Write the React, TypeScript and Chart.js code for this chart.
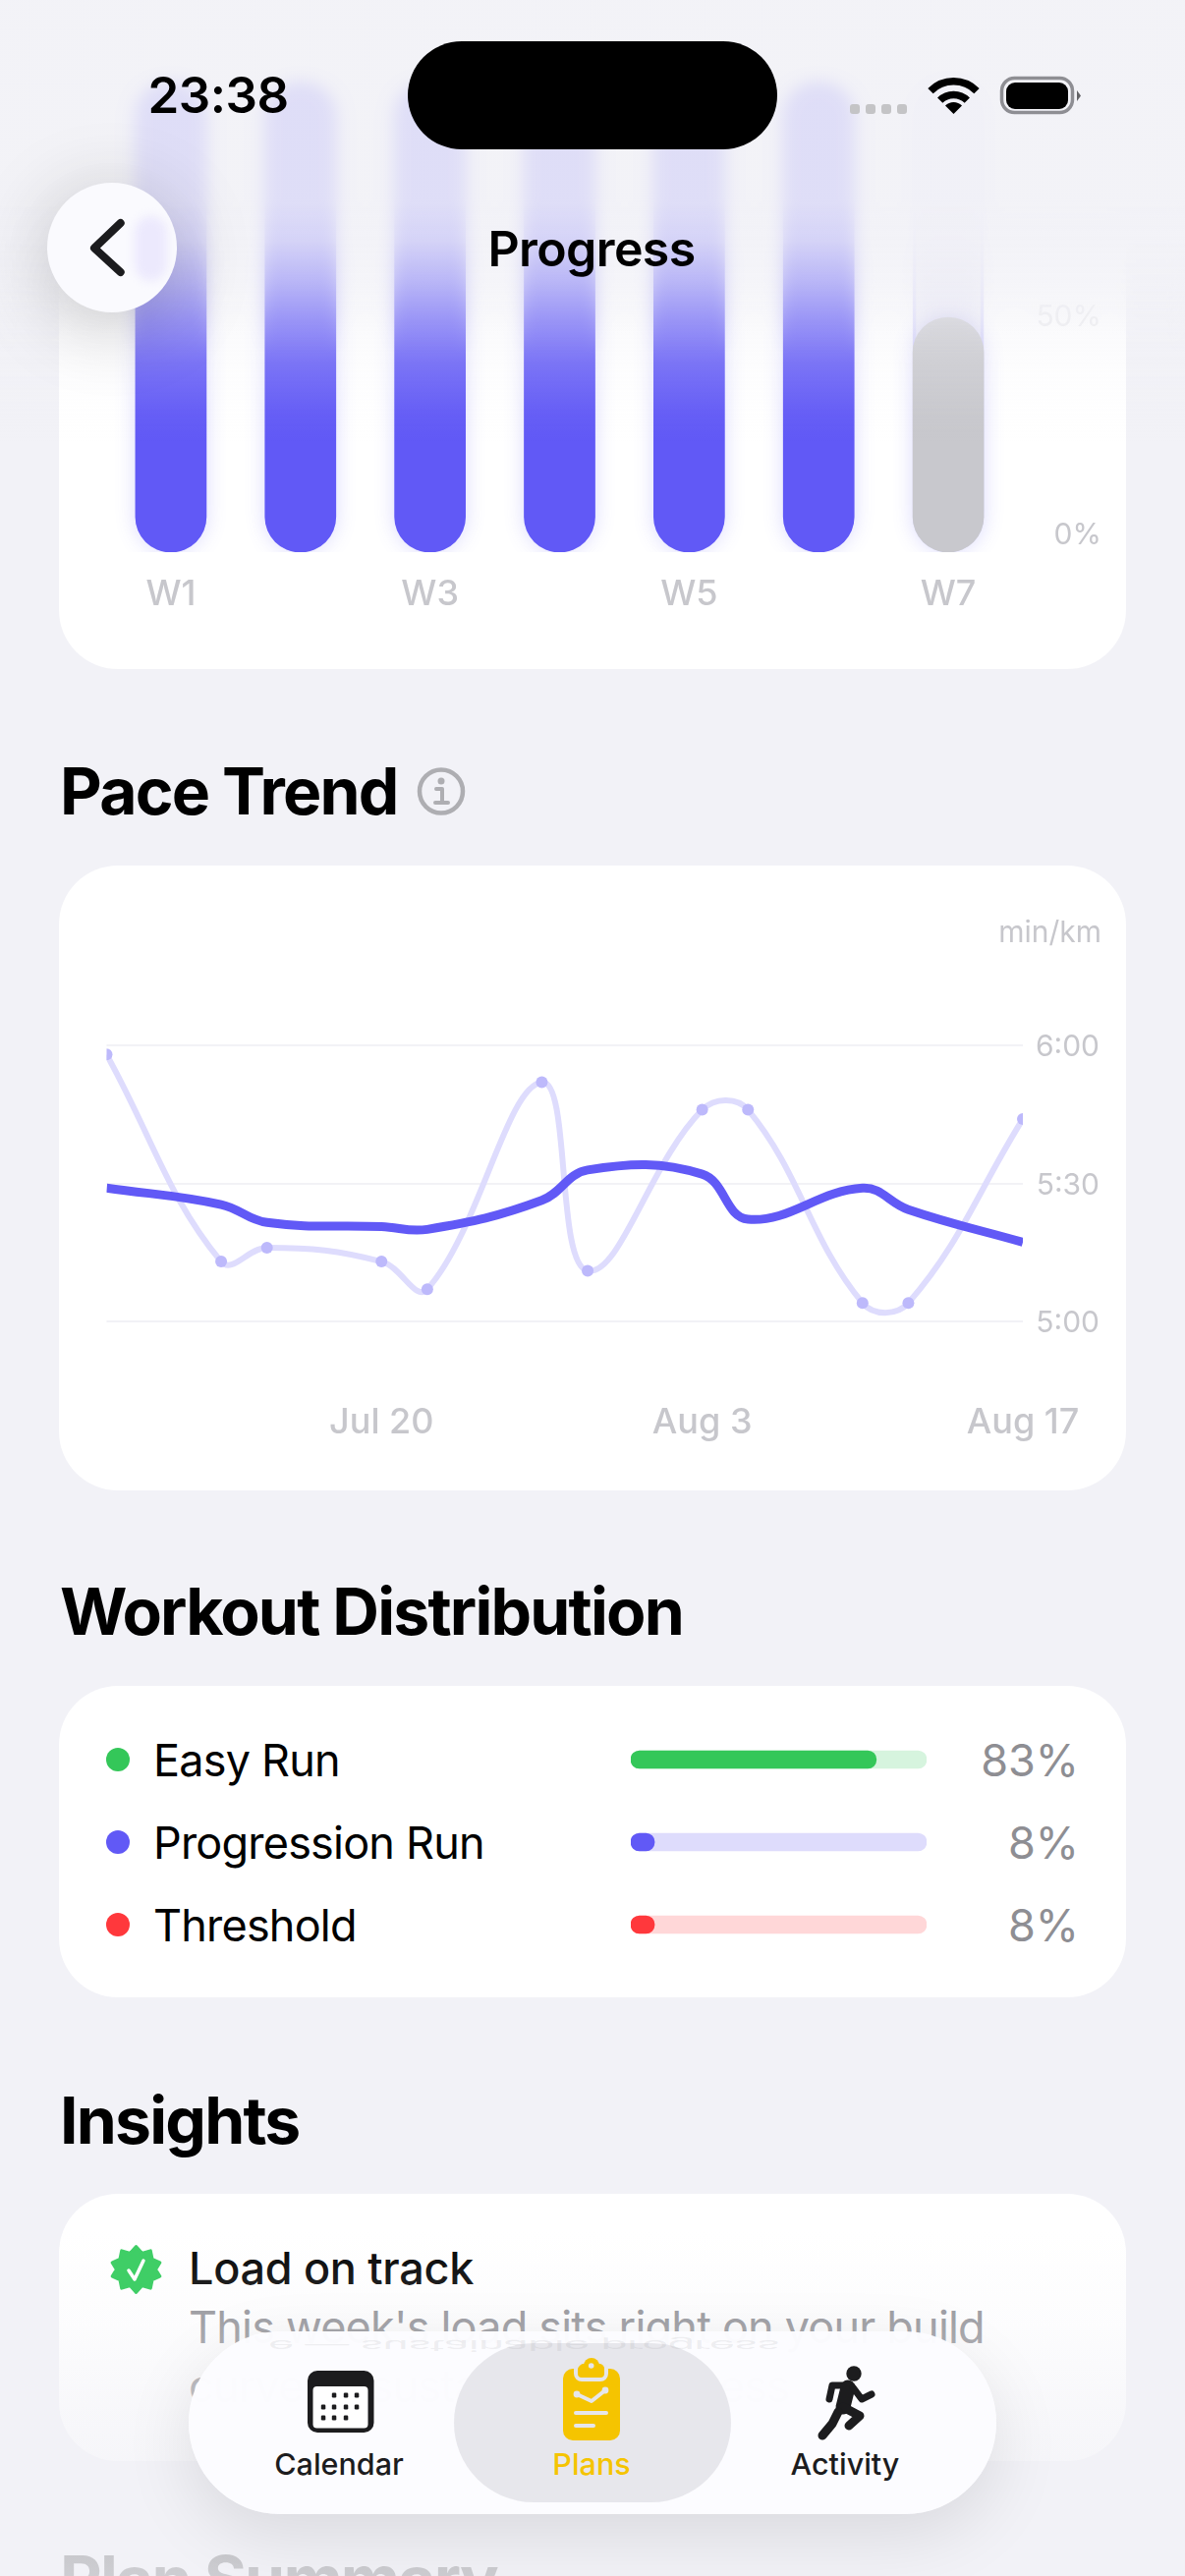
import React, { useEffect, useRef } from 'react';
import { Chart, registerables } from 'chart.js';

Chart.register(...registerables);
Chart.defaults.font.family = 'Inter';

const weeks = ['W1', 'W2', 'W3', 'W4', 'W5', 'W6', 'W7'];
const completedPct = [104, 104, 104, 104, 104, 104, 50];
const plannedPct = [104, 104, 104, 104, 104, 104, 104];
const progressTicks = [0, 50];

// days since Jul 8
const runDays = [0, 5, 7, 12, 14, 19, 21, 26, 28, 33, 35, 40];
const runPace = [358, 313, 316, 313, 307, 352, 311, 346, 346, 304, 304, 344];
const avgPace = [329, 325.4, 321.5, 320.6, 320, 326.3, 332.9, 332, 322.2, 329, 324.3, 317.2];
const paceTicks = [300, 330, 360];
const dateTickDays = [12, 26, 40];
const dateTickLabels = ['Jul 20', 'Aug 3', 'Aug 17'];

const workouts = ['Easy Run', 'Progression Run', 'Threshold'];
const workoutPct = [83, 8, 8];
const workoutTrack = [100, 100, 100];

const PURPLE = '#6159F6';
const GRAY_TEXT = '#C7C7CC';
const BG = '#F2F2F7';
const workoutColors = ['#34C759', PURPLE, '#FF383C'];
const workoutTints = ['#D6F4DE', '#DEDCFC', '#FFD7D8'];

const barGlow = {
  id: 'barGlow',
  beforeDatasetDraw(chart: Chart) {
    chart.ctx.save();
    chart.ctx.shadowColor = 'rgba(97, 89, 246, 0.22)';
    chart.ctx.shadowBlur = 20;
  },
  afterDatasetDraw(chart: Chart) {
    chart.ctx.restore();
  },
};

const ProgressChart: React.FC = () => {
  const canvasRef = useRef<HTMLCanvasElement | null>(null);

  useEffect(() => {
    if (!canvasRef.current) return;
    const chart = new Chart(canvasRef.current, {
      type: 'bar',
      data: {
        labels: weeks,
        datasets: [
          {
            label: 'Completed',
            data: completedPct,
            base: -3.83,
            backgroundColor: completedPct.map((_, i) => (i === 6 ? '#C8C8CD' : PURPLE)),
            borderWidth: 0,
            borderRadius: 36,
            borderSkipped: false,
            barThickness: 72,
            grouped: false,
          },
          {
            label: 'Planned',
            data: plannedPct,
            base: -3.83,
            backgroundColor: 'rgba(226, 226, 236, 0.35)',
            borderColor: 'rgba(97, 89, 246, 0.18)',
            borderWidth: 3,
            borderRadius: 36,
            borderSkipped: false,
            barThickness: 72,
            grouped: false,
          },
        ],
      },
      options: {
        animation: false,
        responsive: false,
        layout: { padding: { top: 82, left: 48, right: 25 } },
        plugins: { legend: { display: false }, tooltip: { enabled: false } },
        scales: {
          x: {
            grid: { display: false, drawTicks: false },
            border: { display: false },
            ticks: {
              autoSkip: false,
              maxRotation: 0,
              padding: 22,
              color: GRAY_TEXT,
              font: { size: 36, weight: 500 },
              callback: (_, i) => (i % 2 === 0 ? weeks[i] : ''),
            },
            afterFit: (s) => {
              s.height = 118;
            },
          },
          y: {
            position: 'right',
            min: -3.83,
            max: 104.27,
            grid: { display: false, drawTicks: false },
            border: { display: false },
            afterBuildTicks: (s) => {
              s.ticks = progressTicks.map((value) => ({ value }));
            },
            afterFit: (s) => {
              s.width = 90;
            },
            ticks: {
              crossAlign: 'far',
              color: (c) => (c.tick.value === 50 ? '#E9E9EC' : GRAY_TEXT),
              font: { size: 30 },
              callback: (v) => `${v}%`,
            },
          },
        },
      },
      plugins: [barGlow],
    });
    return () => chart.destroy();
  }, []);

  return <canvas ref={canvasRef} width={1086} height={680} style={{ position: 'absolute', left: 60, top: 0 }} />;
};

const PaceChart: React.FC = () => {
  const canvasRef = useRef<HTMLCanvasElement | null>(null);

  useEffect(() => {
    if (!canvasRef.current) return;
    const chart = new Chart(canvasRef.current, {
      type: 'line',
      data: {
        datasets: [
          {
            label: 'Average',
            data: runDays.map((x, i) => ({ x, y: avgPace[i] })),
            borderColor: PURPLE,
            borderWidth: 9,
            pointRadius: 0,
            tension: 0.4,
            clip: 0,
          },
          {
            label: 'Runs',
            data: runDays.map((x, i) => ({ x, y: runPace[i] })),
            borderColor: '#DEDCFD',
            borderWidth: 6,
            pointRadius: 6,
            pointBackgroundColor: '#BDB9FB',
            pointBorderWidth: 0,
            tension: 0.4,
            clip: 0,
          },
        ],
      },
      options: {
        animation: false,
        responsive: false,
        layout: { padding: { top: 183, left: 48.5, right: 27 } },
        plugins: { legend: { display: false }, tooltip: { enabled: false } },
        scales: {
          x: {
            type: 'linear',
            min: 0,
            max: 40,
            grid: { display: false, drawTicks: false },
            border: { display: false },
            afterBuildTicks: (s) => {
              s.ticks = dateTickDays.map((value) => ({ value }));
            },
            afterFit: (s) => {
              s.height = 172;
              // the label padding would otherwise shrink the plot
              s.paddingLeft = 0;
              s.paddingRight = 0;
            },
            ticks: {
              autoSkip: false,
              maxRotation: 0,
              padding: 82,
              color: GRAY_TEXT,
              font: { size: 36, weight: 500 },
              callback: (v) => dateTickLabels[dateTickDays.indexOf(v as number)],
            },
          },
          y: {
            position: 'right',
            min: 300,
            max: 360,
            grid: { color: '#F2F2F6', lineWidth: 2, drawTicks: false },
            border: { display: false },
            afterBuildTicks: (s) => {
              s.ticks = paceTicks.map((value) => ({ value }));
            },
            afterFit: (s) => {
              s.width = 78;
            },
            ticks: {
              crossAlign: 'far',
              labelOffset: 2,
              color: GRAY_TEXT,
              font: { size: 30 },
              callback: (v) => `${Math.floor((v as number) / 60)}:${String((v as number) % 60).padStart(2, '0')}`,
            },
          },
        },
      },
    });
    return () => chart.destroy();
  }, []);

  return <canvas ref={canvasRef} width={1086} height={636} style={{ position: 'absolute', left: 60, top: 881 }} />;
};

const DistributionChart: React.FC = () => {
  const canvasRef = useRef<HTMLCanvasElement | null>(null);

  useEffect(() => {
    if (!canvasRef.current) return;
    const chart = new Chart(canvasRef.current, {
      type: 'bar',
      data: {
        labels: workouts,
        datasets: [
          {
            label: 'Share',
            data: workoutPct,
            backgroundColor: workoutColors,
            borderRadius: 9,
            borderSkipped: false,
            barThickness: 18,
            grouped: false,
          },
          {
            label: 'Track',
            data: workoutTrack,
            backgroundColor: workoutTints,
            borderRadius: 9,
            borderSkipped: false,
            barThickness: 18,
            grouped: false,
          },
        ],
      },
      options: {
        indexAxis: 'y',
        animation: false,
        responsive: false,
        plugins: { legend: { display: false }, tooltip: { enabled: false } },
        scales: {
          x: { display: false, min: 0, max: 100 },
          y: { display: false },
        },
      },
    });
    return () => chart.destroy();
  }, []);

  return <canvas ref={canvasRef} width={301} height={252} style={{ position: 'absolute', left: 642, top: 1749 }} />;
};

type TextProps = {
  x: number;
  y: number;
  size: number;
  weight?: number;
  color?: string;
  anchor?: 'left' | 'center' | 'right';
  spacing?: number;
  children: React.ReactNode;
  extra?: React.CSSProperties;
};

const Text: React.FC<TextProps> = ({ x, y, size, weight = 400, color = '#000', anchor = 'left', spacing = 0, children, extra }) => {
  const tx = anchor === 'left' ? '0' : anchor === 'center' ? '-50%' : '-100%';
  return (
    <div
      style={{
        position: 'absolute',
        left: x,
        top: y,
        transform: `translate(${tx}, -50%)`,
        fontFamily: 'Inter',
        fontSize: size,
        fontWeight: weight,
        color,
        letterSpacing: spacing,
        lineHeight: 1.2,
        whiteSpace: 'nowrap',
        ...extra,
      }}
    >
      {children}
    </div>
  );
};

const Card: React.FC<{ top: number; bottom: number; background?: string }> = ({ top, bottom, background = '#fff' }) => (
  <div style={{ position: 'absolute', left: 60, width: 1086, top, height: bottom - top, background, borderRadius: 60 }} />
);

const StatusAndIcons: React.FC = () => (
  <svg width={1206} height={2622} style={{ position: 'absolute', left: 0, top: 0 }}>
    {/* status bar */}
    <rect x={415} y={42} width={376} height={110} rx={55} fill="#000" />
    {[865, 881, 897, 913].map((x) => (
      <rect key={x} x={x} y={106} width={10} height={10} rx={3} fill="#C4C4C6" />
    ))}
    <g fill="none" stroke="#000" strokeWidth={7.5}>
      <path d="M947 92.7 A33 33 0 0 1 994 92.7" />
      <path d="M956.7 102.2 A19.5 19.5 0 0 1 984.3 102.2" />
    </g>
    <path d="M970.5 116 L962 107.5 A12 12 0 0 1 979 107.5 Z" fill="#000" />
    <rect x={1019.5} y={79.5} width={72} height={35} rx={13} fill="none" stroke="#8E8E93" strokeWidth={3.5} />
    <rect x={1024} y={84} width={63} height={27} rx={9} fill="#000" />
    <path d="M1096 92 L1100 97.5 L1096 103 Z" fill="#636366" />

    {/* back button chevron */}
    <path d="M122.7 227 L96 252.5 L122.7 277" fill="none" stroke="#1C1C1E" strokeWidth={8} strokeLinecap="round" strokeLinejoin="round" />

    {/* info icon */}
    <circle cx={449} cy={805.5} r={22} fill="none" stroke="#AEAEB2" strokeWidth={4.5} />
    <circle cx={449} cy={795} r={3.5} fill="#AEAEB2" />
    <path d="M444 803 H450 V817 M443 817 H456" fill="none" stroke="#AEAEB2" strokeWidth={4} strokeLinecap="round" strokeLinejoin="round" />

    {/* insight badge */}
    <g transform="translate(138.5 2310) scale(0.86) translate(-137 -2312)">
      <path
        d="M137 2285 L144 2293 L154 2290 L156 2300 L165 2304 L160 2312 L165 2320 L156 2324 L154 2334 L144 2331 L137 2339 L130 2331 L120 2334 L118 2324 L109 2320 L114 2312 L109 2304 L118 2300 L120 2290 L130 2293 Z"
        fill="#3FCE66"
        stroke="#3FCE66"
        strokeWidth={4}
        strokeLinejoin="round"
      />
    </g>
    <path d="M131 2311 L137 2320 L146 2301" fill="none" stroke="#fff" strokeWidth={3.5} strokeLinecap="round" strokeLinejoin="round" />
  </svg>
);

const TabIcons: React.FC = () => (
  <svg width={1206} height={2622} style={{ position: 'absolute', left: 0, top: 0 }}>
    {/* calendar */}
    <rect x={313} y={2413} width={67.5} height={63} rx={10} fill="#1C1C1E" />
    <rect x={318.5} y={2429} width={56} height={42.5} rx={4} fill="#fff" />
    {[340, 352, 363].map((x) => (
      <rect key={`a${x}`} x={x - 2.2} y={2435.5} width={4.5} height={5} rx={1.2} fill="#1C1C1E" />
    ))}
    {[329, 340, 352, 363].map((x) => (
      <rect key={`b${x}`} x={x - 2.2} y={2447.5} width={4.5} height={5} rx={1.2} fill="#1C1C1E" />
    ))}
    {[329, 340, 352].map((x) => (
      <rect key={`c${x}`} x={x - 2.2} y={2458.5} width={4.5} height={5} rx={1.2} fill="#1C1C1E" />
    ))}

    {/* plans */}
    <rect x={573} y={2411} width={58} height={73} rx={10} fill="#F5C400" />
    <rect x={586} y={2406} width={31} height={16} rx={6} fill="#F5C400" stroke="#E6E6EA" strokeWidth={4} />
    <path d="M594 2408 a8 8 0 0 1 16 0 v6 h-16 Z" fill="#F5C400" />
    <rect x={589} y={2406} width={26} height={13} rx={5} fill="#F5C400" />
    <circle cx={601.7} cy={2408} r={2.8} fill="#E6E6EA" />
    <path d="M587 2437 L602 2444 L616 2433" fill="none" stroke="#E6E6EA" strokeWidth={4} strokeLinejoin="round" />
    <circle cx={587} cy={2437} r={3.4} fill="#E6E6EA" />
    <circle cx={616} cy={2433} r={3.4} fill="#E6E6EA" />
    <rect x={584} y={2454} width={35} height={4} rx={2} fill="#E6E6EA" />
    <rect x={584} y={2467} width={22} height={4} rx={2} fill="#E6E6EA" />

    {/* activity */}
    <circle cx={869} cy={2416} r={7.7} fill="#1C1C1E" />
    <g fill="none" stroke="#1C1C1E" strokeLinecap="round" strokeLinejoin="round">
      <path d="M860 2428 L847 2428 L844 2442" strokeWidth={7} />
      <path d="M863 2430 L858 2450" strokeWidth={15} />
      <path d="M868 2430 L877 2442 L887 2437" strokeWidth={7} />
      <path d="M858 2450 L875 2459 L864 2469" strokeWidth={9} />
      <path d="M853 2455 L847 2467 L837 2479" strokeWidth={9} />
    </g>
  </svg>
);

const App: React.FC = () => (
  <div style={{ position: 'absolute', left: 0, top: 0, width: 1206, height: 2622, overflow: 'hidden', background: BG }}>
    <Card top={-40} bottom={681} background={`linear-gradient(to bottom, ${BG} 250px, #fff 380px)`} />
    <ProgressChart />

    <Text x={61} y={806} size={66} weight={700} spacing={-1.8}>Pace Trend</Text>
    <Card top={881} bottom={1517} />
    <PaceChart />
    <Text x={1121} y={948} size={30} color={GRAY_TEXT} anchor="right">min/km</Text>

    <Text x={61} y={1641} size={66} weight={700} spacing={-1.8}>Workout Distribution</Text>
    <Card top={1716} bottom={2033} />
    <DistributionChart />
    {workouts.map((w, i) => (
      <React.Fragment key={w}>
        <div style={{ position: 'absolute', left: 108, top: 1779 + i * 84, width: 24, height: 24, borderRadius: 12, background: workoutColors[i] }} />
        <Text x={156} y={1792 + i * 84} size={45} spacing={-0.8}>{w}</Text>
        <Text x={1098} y={1792 + i * 84} size={45} color="#8E8E93" anchor="right">{`${workoutPct[i]}%`}</Text>
      </React.Fragment>
    ))}

    <Text x={61} y={2159} size={66} weight={700} spacing={-1.8}>Insights</Text>
    <Card top={2233} bottom={2505} />
    <Text x={192} y={2309} size={45} weight={550} spacing={-0.3}>Load on track</Text>
    <Text x={192} y={2369} size={45} color="#8E8E93" spacing={-0.8}>This week's load sits right on your build</Text>
    <Text x={192} y={2429} size={45} color="#8E8E93" spacing={-0.8}>curve — sustainable progress</Text>
    <Text x={61} y={2626} size={66} weight={700} spacing={-1.8}>Plan Summary</Text>

    {/* top fade under the status bar */}
    <div
      style={{
        position: 'absolute',
        left: 0,
        top: 0,
        width: 1206,
        height: 460,
        backdropFilter: 'blur(8px)',
        WebkitMaskImage: 'linear-gradient(to bottom, #000 0px, #000 200px, transparent 360px)',
        maskImage: 'linear-gradient(to bottom, #000 0px, #000 200px, transparent 360px)',
      }}
    />
    <div
      style={{
        position: 'absolute',
        left: 0,
        top: 0,
        width: 1206,
        height: 460,
        background:
          'linear-gradient(to bottom, rgba(242,242,247,0.87) 0px, rgba(242,242,247,0.87) 205px, rgba(242,242,247,0.8) 245px, rgba(242,242,247,0.62) 285px, rgba(242,242,247,0.4) 325px, rgba(242,242,247,0.18) 370px, rgba(242,242,247,0.04) 420px, rgba(242,242,247,0) 450px)',
      }}
    />

    {/* bottom fade under the tab bar */}
    <div
      style={{
        position: 'absolute',
        left: 0,
        top: 2270,
        width: 1206,
        height: 352,
        background:
          'linear-gradient(to bottom, rgba(242,242,247,0) 0px, rgba(242,242,247,0.2) 90px, rgba(242,242,247,0.55) 180px, rgba(242,242,247,0.75) 250px, rgba(242,242,247,0.85) 352px)',
      }}
    />

    <Text x={222} y={97} size={51} weight={600} anchor="center" spacing={-0.5}>23:38</Text>
    <Text x={602} y={253} size={50} weight={600} anchor="center" spacing={-0.6}>Progress</Text>

    <div
      style={{
        position: 'absolute',
        left: 48,
        top: 186,
        width: 132,
        height: 132,
        borderRadius: 66,
        background: '#FAFAFE',
        boxShadow: '0 12px 80px rgba(0,0,0,0.22)',
        overflow: 'hidden',
      }}
    >
      <div style={{ position: 'absolute', left: 89, top: 34, width: 33, height: 66, borderRadius: 20, background: '#ECE9FD', filter: 'blur(5px)' }} />
    </div>

    {/* tab bar */}
    <div
      style={{
        position: 'absolute',
        left: 192,
        top: 2373,
        width: 822,
        height: 186,
        borderRadius: 93,
        background: 'rgba(252,252,255,0.975)',
        boxShadow: '0 22px 70px rgba(0,0,0,0.10)',
      }}
    />
    <div style={{ position: 'absolute', left: 462, top: 2385, width: 282, height: 162, borderRadius: 81, background: 'rgba(229,229,234,0.92)' }} />
    {/* the glass mirrors the text above its edge */}
    <Text
      x={793}
      y={2387}
      size={45}
      spacing={-0.8}
      color="rgba(142,142,147,0.14)"
      anchor="right"
      extra={{ transform: 'translate(-100%, -50%) scaleY(-0.33)' }}
    >
      e — sustainable progress
    </Text>
    <Text x={345} y={2508} size={30.5} weight={500} color="#1C1C1E" anchor="center">Calendar</Text>
    <Text x={602} y={2508} size={30.5} weight={500} color="#F5C400" anchor="center">Plans</Text>
    <Text x={860} y={2508} size={30.5} weight={500} color="#1C1C1E" anchor="center">Activity</Text>

    <TabIcons />
    <StatusAndIcons />
  </div>
);

export default App;
